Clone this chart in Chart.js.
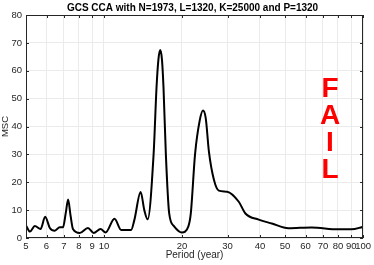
<!DOCTYPE html>
<html>
<head>
<meta charset="utf-8">
<script src="https://cdn.jsdelivr.net/npm/chart.js@4.4.1/dist/chart.umd.min.js"></script>
<style>
  html, body { margin: 0; padding: 0; background: #fff; }
</style>
</head>
<body>
<canvas id="myChart" width="374" height="265"></canvas>
<script>
// values
const periods = [5.00, 5.18, 5.41, 5.69, 5.93, 6.18, 6.46, 6.75, 6.95, 7.12, 7.27, 7.43, 7.59, 8.06, 8.67, 9.12, 9.70,
  10.14, 10.98, 11.65, 12.72, 13.10, 13.85, 14.31, 14.74, 15.54, 15.95, 16.22, 16.48, 16.74, 16.97, 17.33, 17.85,
  18.65, 19.97, 21.17, 21.63, 22.46, 23.40, 24.10, 24.70, 25.41, 26.55, 27.75, 29.87, 33.13, 35.15, 39.54, 44.45,
  51.5, 63.3, 80.1, 90.2, 100];
const msc = [4.5, 2.3, 4.3, 3.2, 7.6, 3.6, 2.6, 3.9, 3.9, 9.0, 13.8, 8.0, 3.2, 1.8, 3.6, 1.8, 3.2,
  2.0, 6.9, 2.9, 2.9, 6.5, 16.5, 10.0, 6.7, 30.0, 54.0, 64.0, 67.4, 64.0, 54.0, 30.0, 8.8,
  4.2, 2.0, 4.2, 8.8, 30.0, 42.0, 45.7, 43.0, 31.0, 21.0, 17.0, 16.6, 13.0, 8.8, 6.6, 5.2,
  3.5, 3.8, 3.1, 3.1, 4.0];
const xTicks = [5, 6, 7, 8, 9, 10, 20, 30, 40, 50, 60, 70, 80, 90, 100];
const yTicks = [0, 10, 20, 30, 40, 50, 60, 70, 80];
const titleText = "GCS CCA with N=1973, L=1320, K=25000 and P=1320";
const stampLetters = ["F", "A", "I", "L"];

const textColor = "#262626";
const gridColor = "#ebebeb";
const fontFamily = "Arial, 'Liberation Sans', sans-serif";

const decorations = {
  id: "decorations",
  afterDatasetsDraw(chart) {
    const { ctx, chartArea: a, scales } = chart;
    ctx.save();
    // box and inward ticks
    ctx.strokeStyle = textColor;
    ctx.lineWidth = 1;
    ctx.strokeRect(Math.round(a.left) + 0.5, Math.round(a.top) + 0.5,
      Math.round(a.right - a.left) - 1, Math.round(a.bottom - a.top) - 1);
    ctx.beginPath();
    xTicks.forEach((v) => {
      const px = Math.round(scales.x.getPixelForValue(v)) + 0.5;
      ctx.moveTo(px, a.bottom); ctx.lineTo(px, a.bottom - 3);
      ctx.moveTo(px, a.top); ctx.lineTo(px, a.top + 3);
    });
    yTicks.forEach((v) => {
      const py = Math.round(scales.y.getPixelForValue(v)) + 0.5;
      ctx.moveTo(a.left, py); ctx.lineTo(a.left + 3, py);
      ctx.moveTo(a.right, py); ctx.lineTo(a.right - 3, py);
    });
    ctx.stroke();
    // title
    ctx.fillStyle = "#000";
    ctx.font = "bold 10px " + fontFamily;
    ctx.textAlign = "center";
    ctx.textBaseline = "middle";
    ctx.fillText(titleText, (a.left + a.right) / 2 - 2, 8);
    // FAIL stamp
    ctx.fillStyle = "#ff0000";
    ctx.font = "bold 28px " + fontFamily;
    ctx.textBaseline = "alphabetic";
    stampLetters.forEach((ch, i) => {
      ctx.fillText(ch, 330, 97 + i * 27);
    });
    ctx.restore();
  }
};

const ctx = document.querySelector("#myChart").getContext("2d");

const config = {
  type: "line",
  data: {
    datasets: [
      {
        data: periods.map((p, i) => ({ x: p, y: msc[i] })),
        borderColor: "#000",
        borderWidth: 2,
        pointRadius: 0,
        fill: false,
        cubicInterpolationMode: "monotone",
      },
    ],
  },
  options: {
    responsive: false,
    animation: false,
    layout: { padding: { top: 15, right: 9, left: 0, bottom: 0 } },
    plugins: { legend: { display: false }, tooltip: { enabled: false } },
    scales: {
      x: {
        type: "logarithmic",
        min: 5,
        max: 100,
        afterBuildTicks: (s) => { s.ticks = xTicks.map((v) => ({ value: v })); },
        afterFit: (s) => { s.height = 27; },
        ticks: {
          autoSkip: false,
          maxRotation: 0,
          padding: 3,
          color: textColor,
          font: { family: fontFamily, size: 9.5 },
          callback: (v) => String(v),
        },
        grid: { color: gridColor, drawTicks: false },
        border: { display: false },
        title: {
          display: true,
          text: "Period (year)",
          color: textColor,
          font: { family: fontFamily, size: 10 },
          padding: { top: 0, bottom: 4 },
        },
      },
      y: {
        min: 0,
        max: 80,
        afterBuildTicks: (s) => { s.ticks = yTicks.map((v) => ({ value: v })); },
        afterFit: (s) => { s.width = 26; },
        ticks: {
          padding: 4,
          color: textColor,
          font: { family: fontFamily, size: 9.5 },
        },
        grid: { color: gridColor, drawTicks: false },
        border: { display: false },
        title: {
          display: true,
          text: "MSC",
          color: textColor,
          font: { family: fontFamily, size: 9.5 },
          padding: { top: 0, bottom: 0 },
        },
      },
    },
  },
  plugins: [decorations],
};

const myChart = new Chart(ctx, config);
</script>
</body>
</html>
